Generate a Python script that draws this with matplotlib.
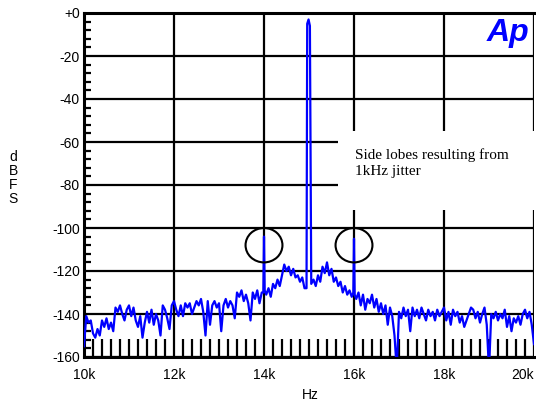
import matplotlib
matplotlib.use('Agg')
import matplotlib.pyplot as plt
from matplotlib.patches import Ellipse, Rectangle
from matplotlib.ticker import MultipleLocator

plt.rcParams['font.family'] = ['Liberation Sans', 'DejaVu Sans']

# FFT of a 15 kHz tone with 1 kHz jitter, 10k-20k span
freq_10k = list(range(10000, 11000, 50))
dbfs_10k = [-155, -141, -144, -143, -149, -151, -147, -150, -143, -146,
            -142, -147, -144, -148, -137, -139, -136, -140, -143, -138]
freq_11k = list(range(11000, 12000, 50))
dbfs_11k = [-136, -141, -137, -143, -146, -141, -151, -144, -139, -144,
            -138, -145, -140, -143, -150, -136, -138, -142, -147, -136]
freq_12k = list(range(12000, 13000, 50))
dbfs_12k = [-134, -138, -141, -136, -141, -135, -137, -135, -140, -137,
            -134, -136, -133, -139, -150, -134, -145, -136, -134, -137]
freq_13k = list(range(13000, 14000, 50)) + [13985]
dbfs_13k = [-135, -148, -136, -133, -137, -134, -136, -142, -130, -132,
            -129, -134, -131, -135, -143, -130, -133, -129, -135, -130, -130]
freq_14k = [14000, 14015] + list(range(14050, 14950, 50)) + [14945, 14960, 14990]
dbfs_14k = [-104, -129, -131, -128, -132, -126, -128, -124, -127, -122,
            -117, -120, -118, -122, -119, -123, -122, -125, -123, -128,
            -128, -5, -3]
freq_15k = [15020] + list(range(15050, 16000, 50)) + [15985]
dbfs_15k = [-6, -126, -124, -127, -122, -125, -118, -121, -116, -122,
            -119, -125, -123, -127, -125, -130, -127, -131, -129, -132, -130]
freq_16k = [16000, 16015] + list(range(16050, 17000, 50))
dbfs_16k = [-105, -131, -133, -130, -136, -131, -138, -133, -135, -131,
            -137, -133, -139, -135, -140, -136, -145, -137, -141, -150, -166]
freq_17k = list(range(17000, 18000, 50))
dbfs_17k = [-139, -142, -137, -141, -138, -148, -137, -141, -138, -142,
            -137, -140, -143, -138, -141, -139, -143, -138, -141, -139]
freq_18k = list(range(18000, 19000, 50))
dbfs_18k = [-137, -143, -139, -145, -138, -141, -139, -144, -141, -146,
            -143, -140, -137, -138, -142, -139, -144, -140, -137, -145]
freq_19k = list(range(19000, 20001, 50))
dbfs_19k = [-166, -140, -142, -139, -143, -140, -142, -138, -146, -141,
            -148, -142, -144, -141, -145, -140, -138, -142, -139, -145, -154]

freq = freq_10k + freq_11k + freq_12k + freq_13k + freq_14k + freq_15k + freq_16k + freq_17k + freq_18k + freq_19k
level = dbfs_10k + dbfs_11k + dbfs_12k + dbfs_13k + dbfs_14k + dbfs_15k + dbfs_16k + dbfs_17k + dbfs_18k + dbfs_19k
assert len(freq) == len(level)

x_ticks = [10000, 12000, 14000, 16000, 18000, 20000]
x_labels = ['10k', '12k', '14k', '16k', '18k', '20k']
y_ticks = [0, -20, -40, -60, -80, -100, -120, -140, -160]
y_labels = ['+0', '-20', '-40', '-60', '-80', '-100', '-120', '-140', '-160']
sidebands = [14000, 16000]

fig = plt.figure(figsize=(5.36, 4.08), dpi=100)
ax = fig.add_axes([84 / 536, 51 / 408, 450 / 536, 344 / 408])
ax.set_xlim(10000, 20000)
ax.set_ylim(-160, 0)

ax.plot(freq, level, color='#0000ff', lw=1.6, zorder=3)

ax.set_xticks(x_ticks)
ax.set_xticklabels(x_labels)
ax.set_yticks(y_ticks)
ax.set_yticklabels(y_labels)
ax.get_xticklabels()[-1].set_horizontalalignment('right')
ax.xaxis.set_minor_locator(MultipleLocator(200))
ax.yaxis.set_minor_locator(MultipleLocator(4))
ax.tick_params(which='major', length=0, labelsize=10)
ax.tick_params(axis='x', which='major', pad=8)
ax.tick_params(axis='y', which='major', pad=3)
ax.tick_params(axis='x', which='minor', direction='in', length=13, width=1.6)
ax.tick_params(axis='y', which='minor', direction='in', length=5, width=1.6)
ax.grid(True, which='major', color='black', lw=1.6)

for s in ['left', 'bottom', 'top']:
    ax.spines[s].set_linewidth(2.2)
ax.spines['right'].set_visible(False)

# blank area behind the note
ax.add_patch(Rectangle((15640, -91.6), 4500, 36.7, facecolor='white',
                       edgecolor='none', zorder=2.5, clip_on=False))
ax.text(16020, -63, 'Side lobes resulting from\n1kHz jitter', family='Liberation Serif',
        fontsize=11, va='top', ha='left', linespacing=1.3, zorder=4)

for f in sidebands:
    ax.add_patch(Ellipse((f, -108), 820, 16, facecolor='none', edgecolor='black',
                         lw=1.5, zorder=4))

ax.text(0.99, 0.985, 'Ap', transform=ax.transAxes, ha='right', va='top',
        fontsize=23, fontweight='bold', fontstyle='italic', color='#0000ff', zorder=5)

fig.text(13 / 536, 1 - 178 / 408, 'd\nB\nF\nS', ha='center', va='center', fontsize=10,
         linespacing=1.0)
fig.text(310 / 536, 1 - 395 / 408, 'Hz', ha='center', va='center', fontsize=10)

fig.savefig('out.png', dpi=100)
